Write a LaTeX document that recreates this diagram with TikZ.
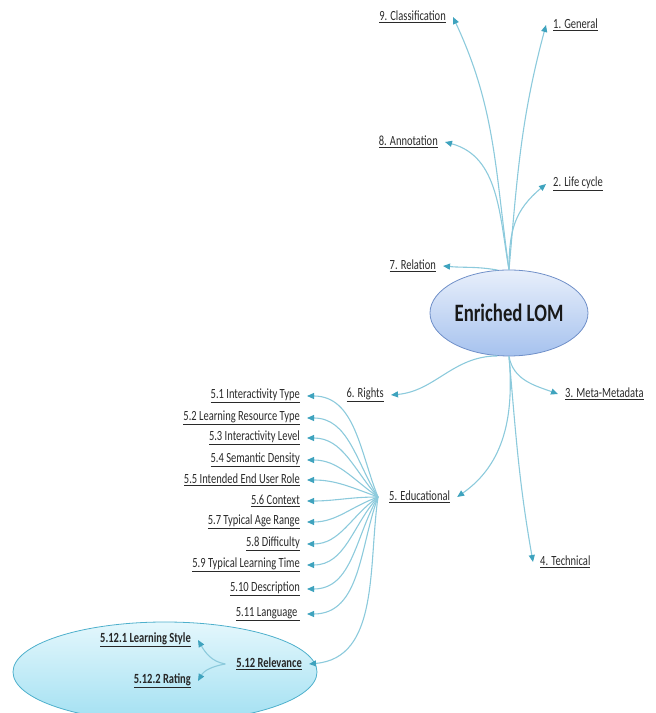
\documentclass[tikz,border=0pt]{standalone}
\usepackage{fontspec}
\setmainfont[FakeStretch=0.75]{Carlito}
\usetikzlibrary{arrows.meta,shapes.geometric}
\definecolor{link}{HTML}{8CCADC}
\definecolor{tipc}{HTML}{3FA3BE}
\definecolor{txt}{HTML}{2A2A2A}
\definecolor{lomtop}{HTML}{E8EFFB}
\definecolor{lombot}{HTML}{A6C2EE}
\definecolor{lomedge}{HTML}{6F8FC8}
\definecolor{reltop}{HTML}{E4F7FC}
\definecolor{relbot}{HTML}{A2E0F2}
\definecolor{reledge}{HTML}{4EB0CC}
\begin{document}
\begin{tikzpicture}[x=1bp,y=1bp,
  lbl/.style={font=\fontsize{14bp}{16bp}\selectfont, text=txt, inner xsep=7bp, inner ysep=2bp},
  blbl/.style={lbl, font=\fontsize{14bp}{16bp}\selectfont\bfseries, text=black!85},
  conn/.style={draw=link, line width=1.1bp, -{Triangle[length=7bp,width=6bp,color=tipc]}},
  lomstyle/.style={ellipse, draw=lomedge, line width=0.8bp, top color=lomtop, bottom color=lombot,
    minimum width=158bp, minimum height=86bp, inner sep=0pt},
  relstyle/.style={ellipse, draw=reledge, line width=0.8bp, top color=reltop, bottom color=relbot,
    minimum width=304bp, minimum height=100bp, inner sep=0pt}
]
\path[use as bounding box] (0,0) rectangle (656,713);
\clip (0,0) rectangle (656,713);

% bottom ellipse (background)
\node[relstyle] (relbg) at (165,41) {};

% central node
\node[lomstyle, font=\fontsize{25bp}{28bp}\selectfont\bfseries, text=black!90] (lom) at (509,400) {Enriched LOM};

% top-level labels
\node[lbl, anchor=east] (c9) at (453,696) {\underline{9. Classification}};
\node[lbl, anchor=west] (c1) at (546,688) {\underline{1. General}};
\node[lbl, anchor=east] (c8) at (445,571) {\underline{8. Annotation}};
\node[lbl, anchor=west] (c2) at (546,529) {\underline{2. Life cycle}};
\node[lbl, anchor=east] (c7) at (443,447) {\underline{7. Relation}};
\node[lbl, anchor=east] (c6) at (391,318) {\underline{6. Rights}};
\node[lbl, anchor=west] (c3) at (558,319) {\underline{3. Meta-Metadata}};
\node[lbl, anchor=west] (c5) at (382,216) {\underline{5. Educational}};
\node[lbl, anchor=west] (c4) at (533,151) {\underline{4. Technical}};

\draw[conn] (lom.north) to[out=98,in=-65] (c9.east);
\draw[conn] (lom.north) to[out=85,in=-105] (c1.west);
\draw[conn] (lom.north) to[out=100,in=-15] (c8.east);
\draw[conn] (lom.north) to[out=90,in=-140,looseness=1.1] (c2.west);
\draw[conn] (lom.105) to[out=170,in=-5] (c7.east);
\draw[conn] (lom.255) to[out=180,in=5] (c6.east);
\draw[conn] (lom.south) to[out=-80,in=160] (c3.west);
\draw[conn] (lom.south) to[out=-85,in=35] (c5.east);
\draw[conn] (lom.south) to[out=-85,in=100] (c4.west);

% educational sub-items
\coordinate (eh) at ([xshift=-4bp]c5.west);
\node[lbl, anchor=east] (e1) at (307,317) {\underline{5.1 Interactivity Type}};
\node[lbl, anchor=east] (e2) at (307,295) {\underline{5.2 Learning Resource Type}};
\node[lbl, anchor=east] (e3) at (307,275) {\underline{5.3 Interactivity Level}};
\node[lbl, anchor=east] (e4) at (307,253) {\underline{5.4 Semantic Density}};
\node[lbl, anchor=east] (e5) at (307,233) {\underline{5.5 Intended End User Role}};
\node[lbl, anchor=east] (e6) at (307,212) {\underline{5.6 Context}};
\node[lbl, anchor=east] (e7) at (307,191) {\underline{5.7 Typical Age Range}};
\node[lbl, anchor=east] (e8) at (307,169) {\underline{5.8 Difficulty}};
\node[lbl, anchor=east] (e9) at (307,148) {\underline{5.9 Typical Learning Time}};
\node[lbl, anchor=east] (e10) at (307,124) {\underline{5.10 Description}};
\node[lbl, anchor=east] (e11) at (307,99) {\underline{5.11 Language\ }};
\node[blbl, anchor=east] (e12) at (309,49) {\underline{5.12 Relevance}};

\draw[conn] (eh) to[out=112,in=0] (e1.east);
\draw[conn] (eh) to[out=122,in=0] (e2.east);
\draw[conn] (eh) to[out=132,in=0] (e3.east);
\draw[conn] (eh) to[out=145,in=0] (e4.east);
\draw[conn] (eh) to[out=160,in=0] (e5.east);
\draw[conn] (eh) to[out=180,in=0] (e6.east);
\draw[conn] (eh) to[out=200,in=0] (e7.east);
\draw[conn] (eh) to[out=215,in=0] (e8.east);
\draw[conn] (eh) to[out=228,in=0] (e9.east);
\draw[conn] (eh) to[out=240,in=0] (e10.east);
\draw[conn] (eh) to[out=250,in=0] (e11.east);
\draw[conn] (eh) to[out=262,in=5] (e12.east);

% relevance sub-items
\node[blbl, anchor=east] (r1) at (198,73) {\underline{5.12.1 Learning Style}};
\node[blbl, anchor=east] (r2) at (198,32) {\underline{5.12.2 Rating}};
\coordinate (rh) at ([xshift=-4bp]e12.west);
\draw[conn] (rh) to[out=170,in=-60] (r1.east);
\draw[conn] (rh) to[out=190,in=60] (r2.east);
\end{tikzpicture}
\end{document}
